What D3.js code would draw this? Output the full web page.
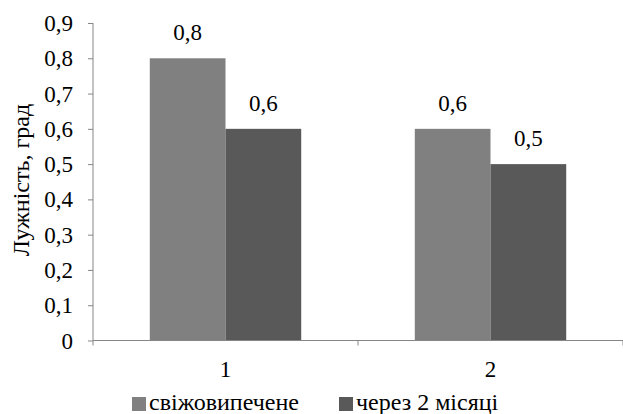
<!DOCTYPE html>
<html>
<head>
<meta charset="utf-8">
<script src="https://cdn.jsdelivr.net/npm/d3@7"></script>
<style>
  body { margin: 0; background: #fff; }
  svg text { font-family: "Times New Roman", "Liberation Serif", Tinos, serif !important; fill: #000; }
</style>
</head>
<body>
<div id="chart"></div>
<script>
// data
const categories = ["1", "2"];
const seriesNames = ["свіжовипечене", "через 2 місяці"];
const freshValues = [0.8, 0.6];
const afterValues = [0.6, 0.5];
const yTicks = [0, 0.1, 0.2, 0.3, 0.4, 0.5, 0.6, 0.7, 0.8, 0.9];

const colors = ["#808080", "#595959"];
const FONT = "Times New Roman, Liberation Serif, serif";
const fmt = d => d === 0 ? "0" : d3.format(".1f")(d).replace(".", ",");

function drawChart(cWidth, cHeight) {
  const margin = { left: 93, top: 23, right: 0, bottom: 73.5 },
    svg = d3.select("#chart").append("svg")
      .attr("width", cWidth).attr("height", cHeight)
      .attr("font-family", FONT);

  const x = d3.scaleBand().domain(categories)
    .range([margin.left, cWidth - margin.right]).paddingInner(0).paddingOuter(0);
  const inner = d3.scaleBand().domain(seriesNames).range([0, x.bandwidth()])
    .paddingInner(0).paddingOuter(0.75);
  const y = d3.scaleLinear().domain([0, 0.9]).range([cHeight - margin.bottom, margin.top]);
  const y0 = y(0);

  // bars
  const bars = [];
  categories.forEach((c, i) => {
    [freshValues[i], afterValues[i]].forEach((v, j) => bars.push({ cat: c, s: seriesNames[j], v, j }));
  });
  svg.selectAll(".bar").data(bars).enter().append("rect")
    .attr("x", d => x(d.cat) + inner(d.s))
    .attr("y", d => y(d.v))
    .attr("width", inner.bandwidth())
    .attr("height", d => y0 - y(d.v))
    .attr("fill", d => colors[d.j]);
  svg.selectAll(".lbl").data(bars).enter().append("text")
    .attr("x", d => x(d.cat) + inner(d.s) + inner.bandwidth() / 2)
    .attr("y", d => y(d.v) - 18)
    .attr("text-anchor", "middle")
    .attr("font-family", FONT)
    .style("font-size", "23px")
    .text(d => fmt(d.v));

  // y axis
  const yAxis = svg.append("g").attr("transform", `translate(${margin.left},0)`)
    .call(d3.axisLeft(y).tickValues(yTicks).tickSize(5).tickFormat(""));
  yAxis.selectAll("line").attr("stroke", "#868686");
  yAxis.select(".domain").attr("stroke", "#868686").attr("d", `M0,${margin.top}V${y0}`);
  svg.selectAll(".ytl").data(yTicks).enter().append("text")
    .attr("x", margin.left - 20)
    .attr("y", d => y(d) + 8)
    .attr("text-anchor", "end")
    .attr("font-family", FONT)
    .style("font-size", "23px")
    .text(fmt);

  // x axis
  const xAxis = svg.append("g").attr("transform", `translate(0, ${y0})`)
    .call(d3.axisBottom(x).tickSize(0).tickFormat(""));
  xAxis.select(".domain").attr("stroke", "#868686")
    .attr("d", `M${margin.left},0H${cWidth - margin.right}`);
  const bounds = [x(categories[0])].concat(categories.map(c => x(c) + x.bandwidth()));
  xAxis.selectAll(".bt").data(bounds).enter().append("line")
    .attr("x1", d => d).attr("x2", d => d).attr("y1", 0).attr("y2", 5)
    .attr("stroke", "#868686");
  svg.selectAll(".xtl").data(categories).enter().append("text")
    .attr("x", d => x(d) + x.bandwidth() / 2)
    .attr("y", y0 + 36)
    .attr("text-anchor", "middle")
    .attr("font-family", FONT)
    .style("font-size", "23px")
    .text(d => d);

  // axis title
  svg.append("text")
    .attr("x", 29).attr("y", 180)
    .attr("transform", "rotate(-90, 29, 180)")
    .attr("text-anchor", "middle")
    .attr("font-family", FONT)
    .style("font-size", "24px")
    .text("Лужність, град");

  // legend
  const legendX = [132, 339];
  svg.selectAll(".lgr").data(seriesNames).enter().append("rect")
    .attr("x", (d, i) => legendX[i]).attr("y", 397)
    .attr("width", 14).attr("height", 14).attr("fill", (d, i) => colors[i]);
  svg.selectAll(".lgt").data(seriesNames).enter().append("text")
    .attr("x", (d, i) => legendX[i] + 17).attr("y", 410)
    .attr("font-family", FONT)
    .style("font-size", "24px")
    .text(d => d);
}

drawChart(623, 414);
</script>
</body>
</html>
